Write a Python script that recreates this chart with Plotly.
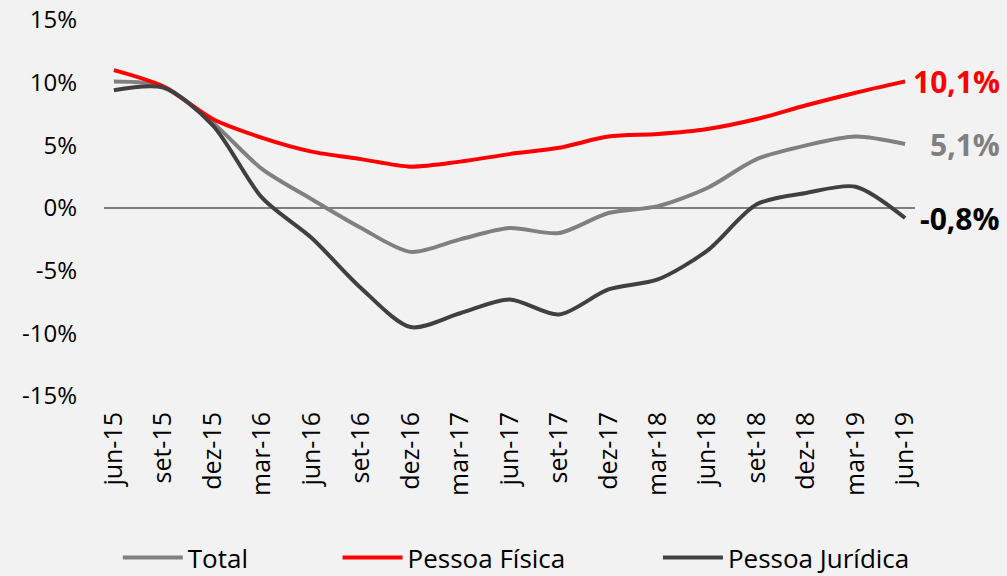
import plotly.graph_objects as go

categories = ["jun-15", "set-15", "dez-15", "mar-16", "jun-16", "set-16", "dez-16",
              "mar-17", "jun-17", "set-17", "dez-17", "mar-18", "jun-18", "set-18",
              "dez-18", "mar-19", "jun-19"]

total = [10.1, 9.7, 6.8, 3.1, 0.7, -1.6, -3.5, -2.5, -1.6, -2.0, -0.4, 0.15, 1.6, 3.9, 5.0, 5.7, 5.1]
pessoa_fisica = [11.0, 9.7, 7.1, 5.6, 4.5, 3.9, 3.3, 3.7, 4.3, 4.8, 5.7, 5.9, 6.3, 7.1, 8.2, 9.2, 10.1]
pessoa_juridica = [9.4, 9.6, 6.6, 0.8, -2.4, -6.4, -9.5, -8.4, -7.3, -8.5, -6.5, -5.7, -3.4, 0.3, 1.2, 1.7, -0.8]

series_names = ["Total", "Pessoa Física", "Pessoa Jurídica"]
end_labels = ["5,1%", "10,1%", "-0,8%"]
y_ticks = [-15, -10, -5, 0, 5, 10, 15]
y_tick_labels = ["-15%", "-10%", "-5%", "0%", "5%", "10%", "15%"]

colors = ["#808080", "#ff0000", "#404040"]
label_colors = ["#808080", "#ff0000", "#000000"]
values = [total, pessoa_fisica, pessoa_juridica]
legends = ["legend", "legend2", "legend3"]
legend_x = [0.017, 0.288, 0.683]

fig = go.Figure()
for name, vals, col, lg in zip(series_names, values, colors, legends):
    fig.add_trace(go.Scatter(
        x=categories, y=vals, name=name, mode="lines",
        line=dict(color=col, width=4, shape="spline", smoothing=0.8),
        legend=lg,
    ))

for vals, lab, col in zip(values, end_labels, label_colors):
    fig.add_annotation(
        x=categories[-1], y=vals[-1], xref="x", yref="y",
        text="<b>" + lab + "</b>", showarrow=False,
        xanchor="right", yanchor="middle", xshift=97,
        font=dict(family="Open Sans", size=30, color=col),
    )

legend_common = dict(
    orientation="h", yanchor="middle", y=-0.43, xanchor="left",
    bgcolor="rgba(0,0,0,0)", font=dict(family="Open Sans", size=26, color="#000000"),
    itemwidth=60,
)
layout_legends = {}
for lg, lx in zip(legends, legend_x):
    layout_legends[lg] = dict(legend_common, x=lx)

fig.update_layout(
    width=1007, height=576,
    margin=dict(l=104, r=92, t=20, b=180, autoexpand=False),
    paper_bgcolor="#f2f2f2", plot_bgcolor="#f2f2f2",
    showlegend=True,
    font=dict(family="Open Sans", color="#000000"),
    xaxis=dict(
        type="category", range=[-0.2, 16.2], showgrid=False, showline=False,
        zeroline=False, tickangle=-90, tickfont=dict(size=25, color="#000000"),
        ticklabelstandoff=10, automargin=False,
    ),
    yaxis=dict(
        range=[-15, 15], tickvals=y_ticks, ticktext=y_tick_labels,
        showgrid=False, showline=False, zeroline=True,
        zerolinecolor="#7f7f7f", zerolinewidth=1.5,
        tickfont=dict(size=24, color="#000000"), ticklabelstandoff=26,
        automargin=False,
    ),
    **layout_legends,
)

fig.write_html(
    "out.html",
    config={"displayModeBar": False},
    post_script="document.body.style.margin='0';document.body.style.overflow='hidden';",
)
